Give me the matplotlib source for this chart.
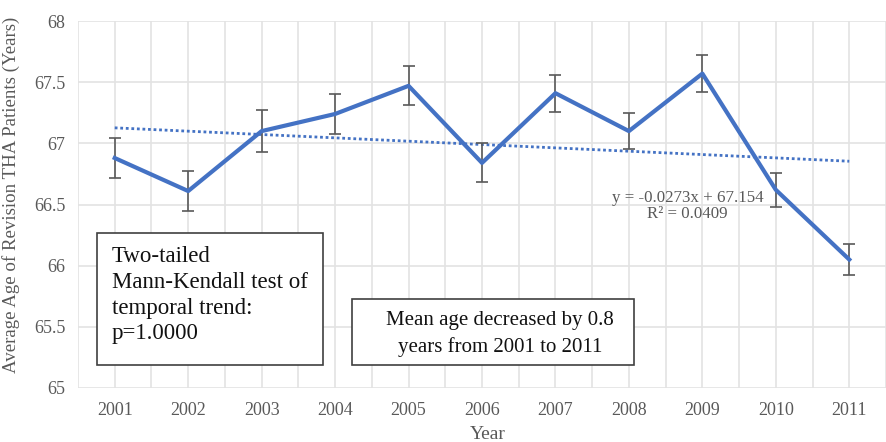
import numpy as np
import matplotlib.pyplot as plt
from matplotlib.patches import Rectangle

# data
years = [2001, 2002, 2003, 2004, 2005, 2006, 2007, 2008, 2009, 2010, 2011]
mean_age = [66.88, 66.61, 67.10, 67.24, 67.47, 66.84, 67.41, 67.10, 67.57, 66.62, 66.05]
err = [0.16, 0.16, 0.17, 0.16, 0.16, 0.16, 0.15, 0.15, 0.15, 0.14, 0.13]

# linear trend as printed on the chart (x = 1..11)
slope = -0.0273
intercept = 67.154
r2 = 0.0409

W, H = 886, 442
plt.rcParams['font.family'] = ['Liberation Serif', 'DejaVu Serif']
grey = '#595959'
blue = '#4472C4'

fig = plt.figure(figsize=(W / 100, H / 100), dpi=100)

def fx(px):
    return px / W

def fy(py):
    return 1 - py / H

# plot area: left edge 78px, bottom 388px, top 21px, runs off the right side
step = 74.7
ax = fig.add_axes([fx(78), fy(388), fx(W - 78), fy(21) - fy(388)])
ax.set_xlim(2000.5, 2000.5 + (W - 78) / step)
ax.set_ylim(65, 68)

ax.set_yticks(np.arange(65, 68.01, 0.5))
ax.set_yticklabels(['65', '65.5', '66', '66.5', '67', '67.5', '68'])
ax.set_xticks(years)
ax.set_xticks(np.arange(2000.5, 2012, 1), minor=True)

ax.grid(True, which='both', color='#e3e3e3', linewidth=1.2)
ax.set_axisbelow(True)
for s in ax.spines.values():
    s.set_visible(False)
ax.tick_params(which='both', length=0, colors=grey, labelsize=13)
ax.tick_params(axis='y', pad=9)
ax.tick_params(axis='x', pad=10)

# trend line
xi = np.arange(1, len(years) + 1)
ax.plot(years, slope * xi + intercept, linestyle=(0, (1, 1)), color=blue,
        linewidth=2, zorder=2)

# mean age with error bars
ax.errorbar(years, mean_age, yerr=err, color=blue, linewidth=3,
            ecolor=grey, elinewidth=1.2, capsize=4, capthick=1.2, zorder=3)

ax.set_ylabel('Average Age of Revision THA Patients (Years)', color=grey,
              fontsize=13.6)
ax.yaxis.set_label_coords(-0.072, 0.526)
fig.text(fx(488), fy(439), 'Year', color=grey, fontsize=14, ha='center',
         va='baseline')

# trend equation
ax.text(2008.8, 66.62, f'y = {slope}x + {intercept}\nR² = {r2}', color=grey,
        fontsize=12.2, ha='center', va='top', linespacing=1.05,
        multialignment='center')

# text boxes
fig.add_artist(Rectangle((fx(97), fy(365)), fx(323 - 97), fy(233) - fy(365),
                         transform=fig.transFigure, facecolor='white',
                         edgecolor='#404040', linewidth=1.2, zorder=5))
fig.text(fx(112), fy(246), 'Two-tailed\nMann-Kendall test of\ntemporal trend:\np=1.0000',
         fontsize=16.5, va='top', ha='left', linespacing=1.3, zorder=6,
         color='#111111')

fig.add_artist(Rectangle((fx(352), fy(365)), fx(634 - 352), fy(299) - fy(365),
                         transform=fig.transFigure, facecolor='white',
                         edgecolor='#404040', linewidth=1.2, zorder=5))
fig.text(fx(500), fy(334), 'Mean age decreased by 0.8\nyears from 2001 to 2011',
         fontsize=15, va='center', ha='center', linespacing=1.5, zorder=6,
         color='#111111')

fig.savefig('out.png', dpi=100)
